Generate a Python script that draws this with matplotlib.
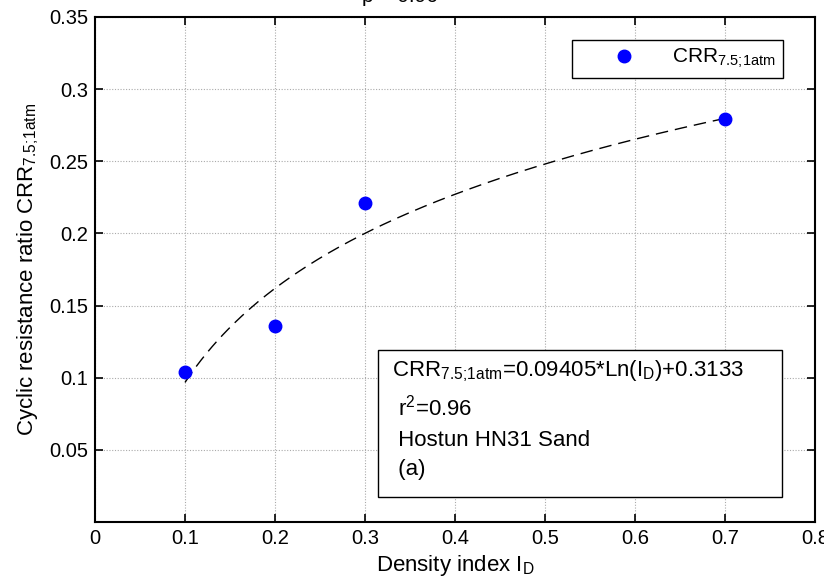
import numpy as np
from matplotlib import pyplot as plt
from matplotlib.patches import Rectangle

plt.rcParams["font.family"] = ["Liberation Sans", "DejaVu Sans"]
plt.rcParams["mathtext.fontset"] = "custom"
plt.rcParams["mathtext.rm"] = "Liberation Sans"
plt.rcParams["mathtext.it"] = "Liberation Sans"

W, H = 824, 580

# measured points
density_index = [0.1, 0.2, 0.3, 0.7]
crr = [0.104, 0.136, 0.221, 0.279]

# fitted log curve CRR = a*ln(ID) + b
fit_a = 0.09405
fit_b = 0.3133

x_ticks = [0, 0.1, 0.2, 0.3, 0.4, 0.5, 0.6, 0.7, 0.8]
x_labels = ["0", "0.1", "0.2", "0.3", "0.4", "0.5", "0.6", "0.7", "0.8"]
y_ticks = [0.05, 0.1, 0.15, 0.2, 0.25, 0.3, 0.35]
y_labels = ["0.05", "0.1", "0.15", "0.2", "0.25", "0.3", "0.35"]

SUB = r"$_{\mathrm{7.5;\!1atm}}$"

fig = plt.figure(figsize=(W / 100, H / 100), dpi=100)
ax = fig.add_axes([95 / W, 1 - 522 / H, 720 / W, 505 / H])

x_fit = np.linspace(min(density_index), max(density_index), 200)
ax.plot(x_fit, fit_a * np.log(x_fit) + fit_b, color="black", linestyle=(0, (9, 5)), linewidth=1.0)
ax.plot(density_index, crr, "o", color="blue", markersize=9, linestyle="none",
        label="CRR" + SUB)

ax.set_xlim(0, 0.8)
ax.set_ylim(0, 0.35)
ax.set_xticks(x_ticks)
ax.set_xticklabels(x_labels)
ax.set_yticks(y_ticks)
ax.set_yticklabels(y_labels)
ax.tick_params(direction="in", length=6, width=1.2, labelsize=14.5, top=True, right=True, pad=5)
ax.grid(True, color="#aaaaaa", linestyle=(0, (1, 1.5)), linewidth=0.8)
for s in ax.spines.values():
    s.set_linewidth(1.5)

ax.set_xlabel(r"Density index I$_{\mathrm{D}}$", fontsize=16, labelpad=4)
ax.set_ylabel("Cyclic resistance ratio CRR" + SUB, fontsize=16, labelpad=6)

leg = fig.legend(loc="upper right", bbox_to_anchor=(783 / W, 1 - 40 / H),
                 fontsize=15, fancybox=False, edgecolor="black", framealpha=1,
                 handletextpad=0.15, borderpad=0.35, borderaxespad=0, handlelength=4.3)
leg.get_frame().set_linewidth(1.0)

# annotation box
fig.patches.append(Rectangle((378 / W, 1 - 497 / H), 404 / W, 147 / H, transform=fig.transFigure,
                             facecolor="white", edgecolor="black", linewidth=1.0, zorder=5))
box_lines = ["CRR" + SUB + r"=0.09405*Ln(I$_{\mathrm{D}}$)+0.3133",
             r" r$^{2}$=0.96",
             " Hostun HN31 Sand",
             " (a)"]
fig.text(392 / W, 1 - 358 / H, "\n".join(box_lines), fontsize=16, va="top", ha="left",
         linespacing=1.55, zorder=6)

# title cut off at top of the source image
fig.text(0.485, 1 - 6 / H, "p = 0.96", fontsize=15, ha="center", va="bottom")

fig.savefig("out.png", dpi=100)
